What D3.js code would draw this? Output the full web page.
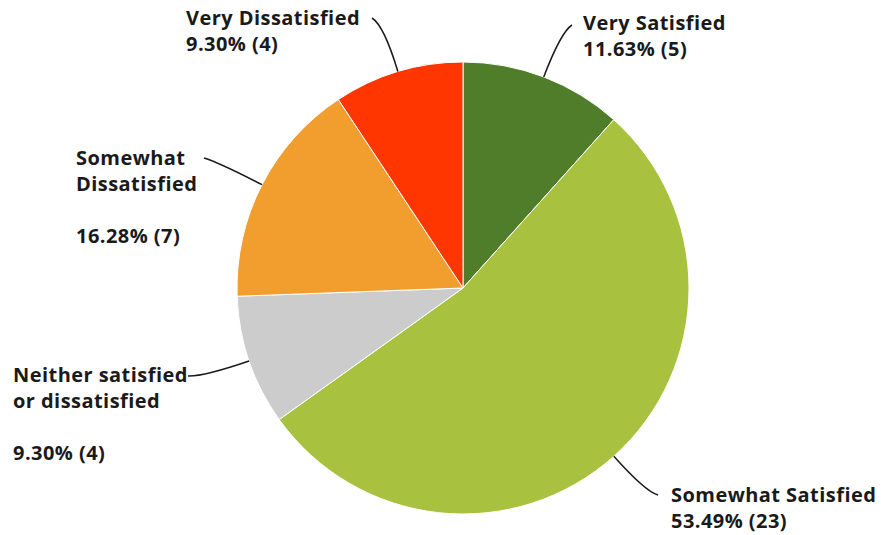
<!DOCTYPE html>
<html>
<head>
<meta charset="utf-8">
<script src="https://cdn.jsdelivr.net/npm/d3@7"></script>
<style>
  html, body { margin: 0; padding: 0; background: #ffffff; }
  svg { display: block; }
  .lbl { font-family: "Open Sans", sans-serif; font-weight: 700; font-size: 20px; letter-spacing: 0.45px; fill: #1a1a1a; }
</style>
</head>
<body>
<svg id="chart" width="881" height="535"></svg>
<script>
// Survey answers, clockwise from 12 o'clock
const categories = [
  "Very Satisfied",
  "Somewhat Satisfied",
  "Neither satisfied or dissatisfied",
  "Somewhat Dissatisfied",
  "Very Dissatisfied"
];
const counts = [5, 23, 4, 7, 4];
const percents = [11.63, 53.49, 9.30, 16.28, 9.30];
const colors = ["#4f7d2a", "#a8c23f", "#cccccc", "#f29e2e", "#ff3600"];

// Label text lines (empty string = spacer line)
const labelLines = [
  ["Very Satisfied"],
  ["Somewhat Satisfied"],
  ["Neither satisfied", "or dissatisfied", ""],
  ["Somewhat", "Dissatisfied", ""],
  ["Very Dissatisfied"]
];

// Label placement: text origin, first baseline, and the point where the leader line meets the text
const labelLayout = [
  { x: 583, y: 30,  end: [572, 25] },
  { x: 671, y: 502, end: [658, 495] },
  { x: 13,  y: 382, end: [188, 376] },
  { x: 76,  y: 165, end: [204, 158] },
  { x: 186, y: 25,  end: [372, 18] }
];

const cx = 463, cy = 288, radius = 226;
const lineHeight = 26;

const svg = d3.select("#chart");
const g = svg.append("g").attr("transform", `translate(${cx},${cy})`);

const data = categories.map((c, i) => ({ category: c, count: counts[i], pct: percents[i], i }));

const pie = d3.pie().value(d => d.count).sort(null);
const arc = d3.arc().innerRadius(0).outerRadius(radius);
const arcs = pie(data);

g.selectAll("path.slice")
  .data(arcs)
  .join("path")
  .attr("class", "slice")
  .attr("d", arc)
  .attr("fill", d => colors[d.data.i])
  .attr("stroke", "#ffffff")
  .attr("stroke-width", 1);

// Leader lines: start on the rim at the slice's mid angle, bend toward the label
const leaderLen = 48;
svg.selectAll("path.leader")
  .data(arcs)
  .join("path")
  .attr("class", "leader")
  .attr("fill", "none")
  .attr("stroke", "#1a1a1a")
  .attr("stroke-width", 1.5)
  .attr("d", d => {
    const a = (d.startAngle + d.endAngle) / 2;
    const ux = Math.sin(a), uy = -Math.cos(a);
    const p0 = [cx + ux * radius, cy + uy * radius];
    const c1 = [cx + ux * (radius + leaderLen), cy + uy * (radius + leaderLen)];
    const end = labelLayout[d.data.i].end;
    const p = d3.path();
    p.moveTo(p0[0], p0[1]);
    p.quadraticCurveTo(c1[0], c1[1], end[0], end[1]);
    return p.toString();
  });

// Labels
const fmt = d3.format(".2f");
const labels = svg.selectAll("text.lbl")
  .data(data)
  .join("text")
  .attr("class", "lbl")
  .attr("x", d => labelLayout[d.i].x)
  .attr("y", d => labelLayout[d.i].y);

labels.each(function(d) {
  const t = d3.select(this);
  const lines = labelLines[d.i].concat([`${fmt(d.pct)}% (${d.count})`]);
  lines.forEach((ln, k) => {
    t.append("tspan")
      .attr("x", labelLayout[d.i].x)
      .attr("dy", k === 0 ? 0 : lineHeight)
      .text(ln === "" ? "\u00a0" : ln);
  });
});
</script>
</body>
</html>
